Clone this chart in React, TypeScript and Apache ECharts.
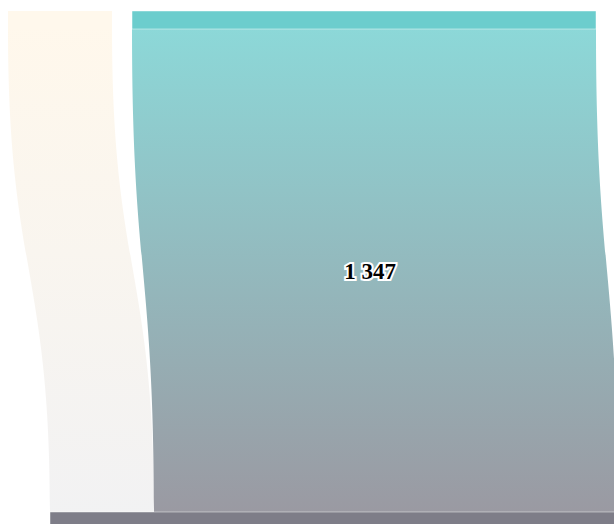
import React, { useEffect, useRef } from "react";
import * as echarts from "echarts";

const nodeNames = ["Source A", "Source B", "Target"];
const nodeColors = ["#FFB941", "#6CCDCD", "#7E7D88"];
const nodeOpacity = [0.1, 1, 1];
const linkSources = ["Source A", "Source B"];
const linkTargets = ["Target", "Target"];
const linkValues = [302, 1347];
const linkOpacity = [0.1, 0.78];
const linkLabelShown = [false, true];

const fmt = (v: number) => {
  const s = String(Math.round(v));
  return s.replace(/\B(?=(\d{3})+(?!\d))/g, " ");
};

export default function App() {
  const ref = useRef<HTMLDivElement>(null);
  useEffect(() => {
    if (!ref.current) return;
    document.documentElement.style.overflow = "hidden";
    const chart = echarts.init(ref.current, null, { renderer: "svg" });
    chart.setOption({
      animation: false,
      series: [
        {
          type: "sankey",
          orient: "vertical",
          left: 0,
          right: 18,
          top: 3,
          bottom: -6,
          nodeWidth: 18,
          nodeGap: 20,
          layoutIterations: 0,
          draggable: false,
          silent: true,
          emphasis: { disabled: true },
          label: { show: false },
          data: nodeNames.map((n, i) => ({
            name: n,
            ...(i === 2 ? { localX: 42 / 588 } : {}),
            itemStyle: {
              color: nodeColors[i],
              opacity: nodeOpacity[i],
              borderColor: "rgba(255,255,255,0.45)",
              borderWidth: 1,
            },
          })),
          links: linkSources.map((s, i) => ({
            source: s,
            target: linkTargets[i],
            value: linkValues[i],
            lineStyle: { color: "gradient", opacity: linkOpacity[i], curveness: 0.5 },
          })),
          edgeLabel: {
            show: true,
            formatter: (p: any) => (linkLabelShown[p.dataIndex] ? fmt(p.value) : ""),
            fontFamily: "Liberation Serif",
            fontWeight: "bold",
            fontSize: 23,
            color: "#000",
            textBorderColor: "#fff",
            textBorderWidth: 4,
            offset: [-5, 1],
          },
        },
      ],
    });
    return () => chart.dispose();
  }, []);
  return (
    <div
      ref={ref}
      style={{ position: "absolute", left: 8, top: 8, width: 606, height: 516, overflow: "hidden" }}
    />
  );
}
